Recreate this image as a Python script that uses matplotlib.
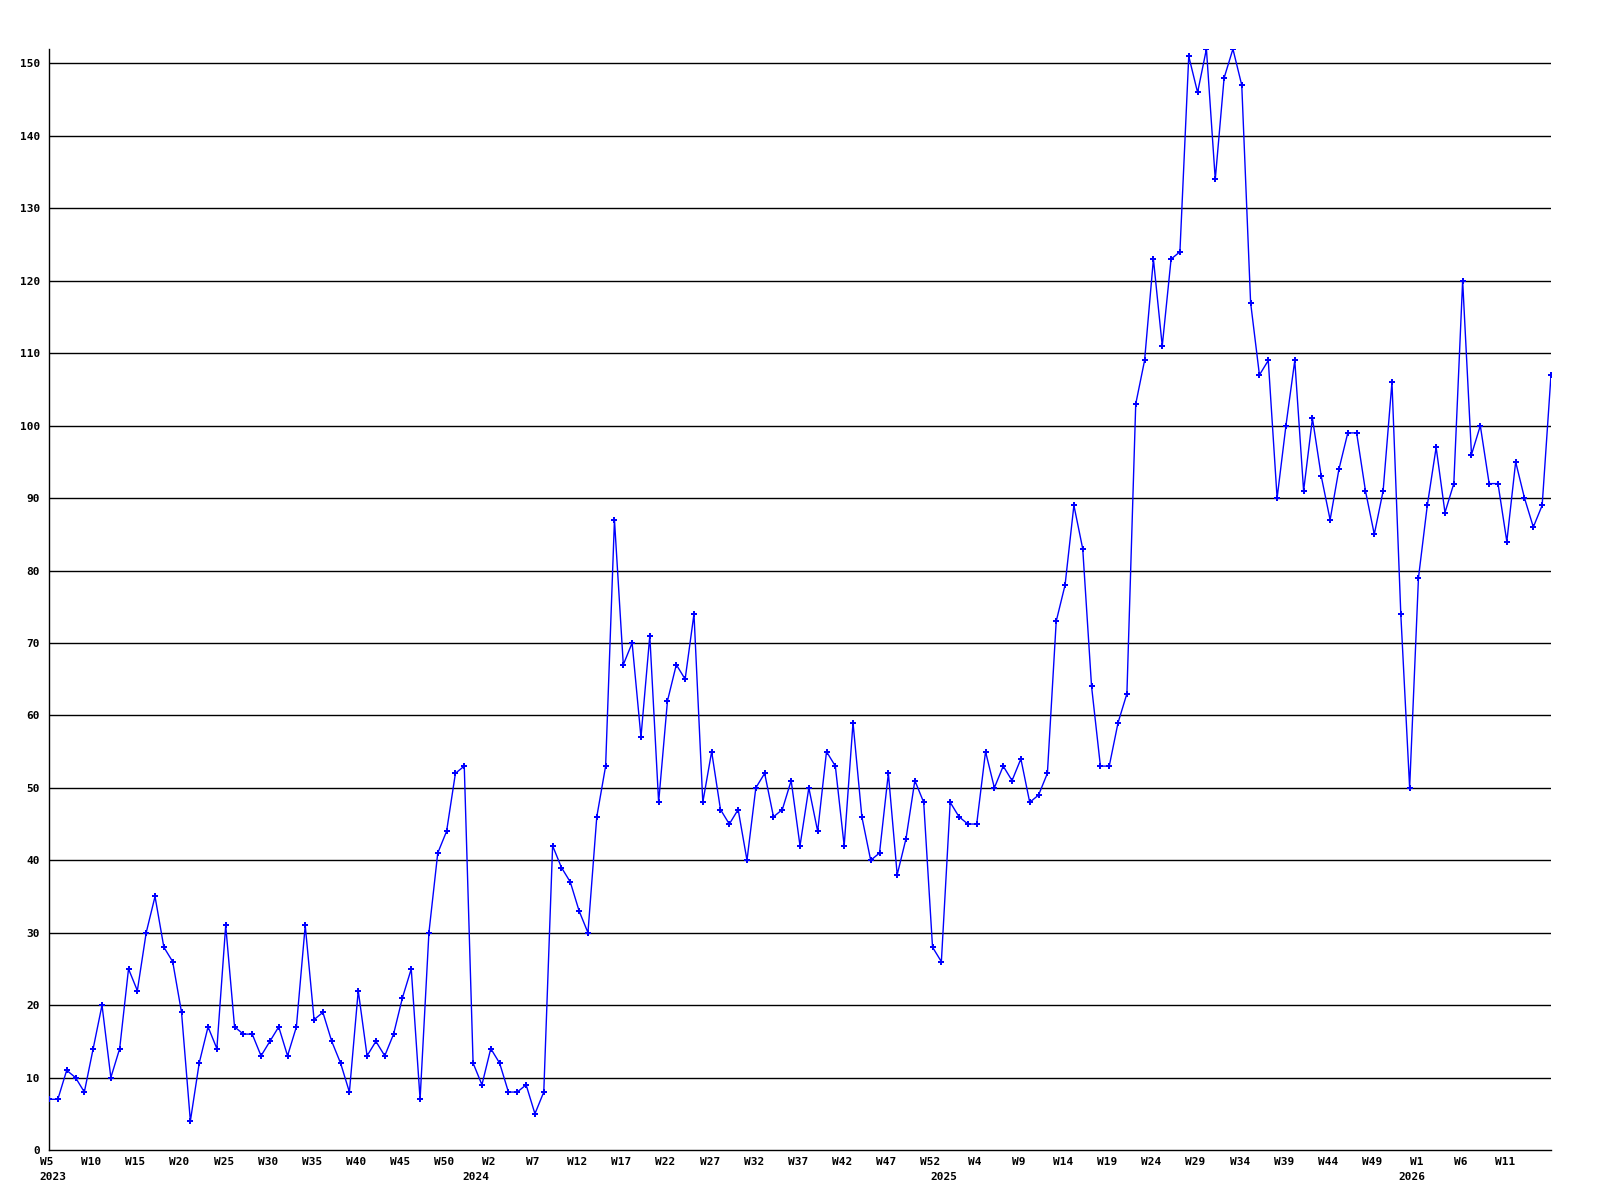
import matplotlib
matplotlib.use("Agg")
import matplotlib.pyplot as plt
import matplotlib.transforms as mtransforms

# weekly counts, one list per year (2023 starts at W5, 2026 ends at W16)
counts_2023 = [7, 7, 11, 10, 8, 14, 20, 10, 14, 25, 22, 30, 35, 28, 26, 19, 4, 12, 17, 14,
               31, 17, 16, 16, 13, 15, 17, 13, 17, 31, 18, 19, 15, 12, 8, 22, 13, 15, 13, 16,
               21, 25, 7, 30, 41, 44, 52, 53, 12]
counts_2024 = [9, 14, 12, 8, 8, 9, 5, 8, 42, 39, 37, 33, 30, 46, 53, 87, 67, 70, 57, 71,
               48, 62, 67, 65, 74, 48, 55, 47, 45, 47, 40, 50, 52, 46, 47, 51, 42, 50, 44, 55,
               53, 42, 59, 46, 40, 41, 52, 38, 43, 51, 48, 28, 26]
counts_2025 = [48, 46, 45, 45, 55, 50, 53, 51, 54, 48, 49, 52, 73, 78, 89, 83, 64, 53, 53, 59,
               63, 103, 109, 123, 111, 123, 124, 151, 146, 152, 134, 148, 152, 147, 117, 107, 109, 90, 100, 109,
               91, 101, 93, 87, 94, 99, 99, 91, 85, 91, 106, 74, 50]
counts_2026 = [79, 89, 97, 88, 92, 120, 96, 100, 92, 92, 84, 95, 90, 86, 89, 107]

years = ["2023", "2024", "2025", "2026"]
first_week = [5, 1, 1, 1]
series = [counts_2023, counts_2024, counts_2025, counts_2026]

values = []
week_no = []
year_of = []
year_start = []
for yr, w0, vals in zip(years, first_week, series):
    year_start.append(len(values))
    for k, v in enumerate(vals):
        values.append(v)
        week_no.append(w0 + k)
        year_of.append(yr)
x = list(range(len(values)))

FONT = dict(family="DejaVu Sans Mono", weight="bold", size=8)

fig = plt.figure(figsize=(16, 12), dpi=100)
ax = fig.add_axes([49 / 1600, 50 / 1200, 1502 / 1600, 1101 / 1200])

for g in range(10, 151, 10):
    ax.axhline(g, color="black", lw=1.0, zorder=1)

ax.plot(x, values, color="#0000ff", lw=1.0, marker="P", ms=4.2, mew=0, zorder=3)

ax.set_xlim(0, len(values) - 1)
ax.set_ylim(0, 152)
for s in ("top", "right"):
    ax.spines[s].set_visible(False)
for s in ("left", "bottom"):
    ax.spines[s].set_color("black")
    ax.spines[s].set_linewidth(1.0)

ax.set_yticks(range(0, 151, 10))
ax.set_yticklabels([str(v) for v in range(0, 151, 10)], fontdict=FONT)
ax.tick_params(axis="y", length=0, pad=6.5)

ticks = list(range(0, len(values) - 1, 5))
ax.set_xticks(ticks)
ax.set_xticklabels([f"W{week_no[i]}" for i in ticks], fontdict=FONT)
ax.tick_params(axis="x", length=0, pad=5)
shift = mtransforms.ScaledTranslation(-2 / 100, 0, fig.dpi_scale_trans)
for lab in ax.get_xticklabels():
    lab.set_transform(lab.get_transform() + shift)

# year labels: under week 1 of each year, first year pinned to the axis start
for yr, i0 in zip(years, year_start):
    if i0 == 0:
        ax.annotate(yr, xy=(0, 0), xycoords=("data", "axes fraction"),
                    xytext=(-7, -19.5), textcoords="offset points",
                    ha="left", va="center", **FONT)
    else:
        ax.annotate(yr, xy=(i0, 0), xycoords=("data", "axes fraction"),
                    xytext=(-4.7, -19.5), textcoords="offset points",
                    ha="center", va="center", **FONT)

plt.savefig("out.png", dpi=100)
